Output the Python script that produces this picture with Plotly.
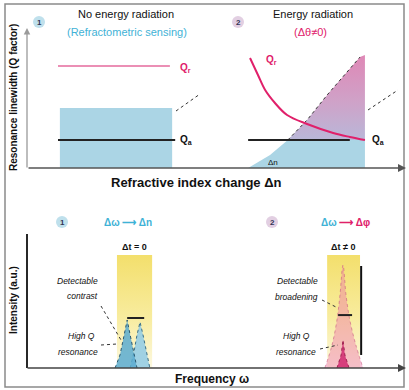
import plotly.graph_objects as go

W, H = 409, 390
def px(x): return x / W
def py(y): return 1 - y / H

# ---------------- data (schematic values) ----------------
# Top panel (1): no energy radiation
p1_rect_x = [0.87, 3.84]; p1_rect_top = 4.35
p1_qa_x = [0.82, 3.92]; p1_qa_y = 2.03
p1_qr_x = [0.82, 3.78]; p1_qr_y = 7.39
# Top panel (2): energy radiation
p2_edge_x = [5.85, 6.43, 6.90, 7.41, 7.94, 8.41, 8.81, 8.94]
p2_edge_y = [0.00, 0.94, 2.03, 3.48, 5.29, 6.74, 8.04, 8.19]
p2_qr_x = [5.90, 6.11, 6.30, 6.56, 6.88, 7.41, 8.10, 8.54, 8.94]
p2_qr_y = [7.97, 6.74, 5.65, 4.71, 3.84, 3.19, 2.54, 2.25, 2.03]
p2_qa_x = [5.85, 8.54]; p2_qa_y = 2.03
# Bottom panel (1)
b1_win_x = [2.38, 3.31]; b1_win_top = 8.5
b1_peakA_x = [2.33, 2.46, 2.57, 2.65, 2.73, 2.83, 2.91]
b1_peakA_y = [0.00, 0.98, 2.48, 3.61, 2.48, 0.98, 0.00]
b1_peakB_x = [2.73, 2.83, 2.91, 2.99, 3.07, 3.17, 3.25]
b1_peakB_y = [0.00, 1.20, 2.48, 3.46, 2.48, 0.98, 0.00]
b1_bar_x = [2.65, 3.10]; b1_bar_y = 3.76
# Bottom panel (2)
b2_win_x = [7.94, 8.81]; b2_win_top = 8.5
b2_peak_x = [7.88, 8.07, 8.20, 8.28, 8.36, 8.44, 8.54, 8.70, 8.89]
b2_peak_y = [0.00, 1.73, 3.61, 5.49, 7.74, 5.49, 3.61, 1.73, 0.00]
b2_hq_x = [8.20, 8.31, 8.36, 8.41, 8.52]
b2_hq_y = [0.00, 0.98, 2.10, 0.98, 0.00]
b2_bar_x = [8.23, 8.60]; b2_bar_y = 3.98
b2_vline_x = 8.84; b2_vline_y = [0.98, 7.67]

BLUE = '#abd5e5'
PINK = '#e46a9c'
MAG = '#e0206a'
CYAN = '#3fb2d6'
FONT = 'Liberation Sans, Arial, sans-serif'

fig = go.Figure()

def tr(**kw):
    kw.setdefault('showlegend', False)
    kw.setdefault('hoverinfo', 'skip')
    fig.add_trace(go.Scatter(**kw))

# ---- top panel traces (x, y) ----
tr(x=[p1_rect_x[0], p1_rect_x[1], p1_rect_x[1], p1_rect_x[0], p1_rect_x[0]],
   y=[0, 0, p1_rect_top, p1_rect_top, 0], mode='lines', line=dict(width=0),
   fill='toself', fillcolor=BLUE, xaxis='x', yaxis='y')
tr(x=p1_qa_x, y=[p1_qa_y] * 2, mode='lines', line=dict(color='#222', width=2), xaxis='x', yaxis='y')
tr(x=p1_qr_x, y=[p1_qr_y] * 2, mode='lines', line=dict(color=PINK, width=1.6), xaxis='x', yaxis='y')

# region below Q_a (solid blue) and above Q_a (lilac -> pink gradient)
k = p2_edge_y.index(p2_qa_y)
xr = p2_edge_x[-1]
low_x = p2_edge_x[:k + 1] + [xr, xr, p2_edge_x[0]]
low_y = p2_edge_y[:k + 1] + [p2_qa_y, 0, 0]
tr(x=low_x, y=low_y, mode='lines', line=dict(width=0), fill='toself', fillcolor=BLUE, xaxis='x', yaxis='y')
top = max(p2_edge_y)
up_x = p2_edge_x[k:] + [xr, p2_edge_x[k]]
up_y = p2_edge_y[k:] + [p2_qa_y, p2_qa_y]
tr(x=up_x, y=up_y, mode='lines', line=dict(width=0), fill='toself',
   fillgradient=dict(type='vertical', start=p2_qa_y, stop=top,
                     colorscale=[[0, '#b9b7d8'], [0.45, '#cfa2c8'], [1, '#df88b6']]),
   xaxis='x', yaxis='y')
tr(x=p2_edge_x[2:7], y=p2_edge_y[2:7], mode='lines',
   line=dict(color='#333', width=1, dash='dot'), xaxis='x', yaxis='y')
tr(x=p2_qa_x, y=[p2_qa_y] * 2, mode='lines', line=dict(color='#222', width=2), xaxis='x', yaxis='y')
tr(x=p2_qr_x, y=p2_qr_y, mode='lines', line=dict(color=MAG, width=2, shape='spline'), xaxis='x', yaxis='y')

# ---- bottom panel traces (x2, y2) ----
for wx, wt in [(b1_win_x, b1_win_top), (b2_win_x, b2_win_top)]:
    tr(x=[wx[0], wx[1], wx[1], wx[0], wx[0]], y=[0, 0, wt, wt, 0], mode='lines', line=dict(width=0),
       fill='toself', fillgradient=dict(type='vertical', start=0, stop=wt,
                                        colorscale=[[0, '#fcf8e0'], [0.45, '#f8ec9e'], [1, '#f3df6c']]),
       xaxis='x2', yaxis='y2')
tr(x=b1_peakB_x, y=b1_peakB_y, mode='lines', fill='toself', fillcolor='rgba(150,205,228,0.9)',
   line=dict(color='#3a6f86', width=1, dash='dot'), xaxis='x2', yaxis='y2')
tr(x=b1_peakA_x, y=b1_peakA_y, mode='lines', fill='toself', fillcolor='rgba(90,172,208,0.85)',
   line=dict(color='#2a5870', width=1, dash='dot'), xaxis='x2', yaxis='y2')
tr(x=b1_bar_x, y=[b1_bar_y] * 2, mode='lines', line=dict(color='#222', width=2), xaxis='x2', yaxis='y2')

tr(x=b2_peak_x, y=b2_peak_y, mode='lines', fill='toself', fillcolor='rgba(238,120,170,0.45)',
   line=dict(color='rgba(200,90,130,0.6)', width=1, dash='dot', shape='spline'), xaxis='x2', yaxis='y2')
tr(x=b2_hq_x, y=b2_hq_y, mode='lines', fill='toself', fillcolor='#d63f7c',
   line=dict(color='#a02050', width=1, dash='dot'), xaxis='x2', yaxis='y2')
tr(x=b2_bar_x, y=[b2_bar_y] * 2, mode='lines', line=dict(color='#222', width=2), xaxis='x2', yaxis='y2')
tr(x=[b2_vline_x] * 2, y=b2_vline_y, mode='lines', line=dict(color='#111', width=2), xaxis='x2', yaxis='y2')

ax_common = dict(showgrid=False, zeroline=False, showticklabels=False, ticks='', showline=False, fixedrange=True)
fig.update_layout(
    width=W, height=H, margin=dict(l=0, r=0, t=0, b=0),
    paper_bgcolor='white', plot_bgcolor='rgba(0,0,0,0)',
    xaxis=dict(domain=[px(27), px(405)], range=[0, 10], anchor='y', **ax_common),
    yaxis=dict(domain=[py(168), py(30)], range=[0, 10], anchor='x', **ax_common),
    xaxis2=dict(domain=[px(27), px(405)], range=[0, 10], anchor='y2', **ax_common),
    yaxis2=dict(domain=[py(368), py(235)], range=[0, 10], anchor='x2', **ax_common),
)

shapes = []
# outer frame
shapes.append(dict(type='rect', xref='paper', yref='paper', x0=px(5), x1=px(404), y0=py(387), y1=py(4),
                   line=dict(color='#8a8a8a', width=1.5)))
# bottom y axis line
shapes.append(dict(type='line', xref='paper', yref='paper', x0=px(27), x1=px(27), y0=py(368), y1=py(234),
                   line=dict(color='#111', width=1.8)))
# badges (round markers)
for bx, by, col in [(39, 22, '#bfe0ec'), (238, 22, '#e2cfe2'), (62, 222, '#bfe0ec'), (272, 222, '#e2cfe2')]:
    shapes.append(dict(type='circle', xref='paper', yref='paper', x0=px(bx - 6), x1=px(bx + 6),
                       y0=py(by + 6), y1=py(by - 6), fillcolor=col, line=dict(width=0)))
# dotted connectors
def dotted(x0, y0, x1, y1, color='#333'):
    shapes.append(dict(type='line', xref='paper', yref='paper', x0=px(x0), y0=py(y0), x1=px(x1), y1=py(y1),
                       line=dict(color=color, width=1, dash='dot')))
dotted(176, 111, 200, 94)
dotted(368, 110, 398, 90)
dotted(101, 306, 121, 340)
dotted(101, 345, 117, 344)
dotted(322, 300, 338, 308)
dotted(320, 349, 338, 345)
fig.update_layout(shapes=shapes)

ann = []
def arrow(x0, y0, x1, y1, color, w=1.5):
    ann.append(dict(xref='paper', yref='paper', axref='pixel', ayref='pixel', x=px(x1), y=py(y1),
                    ax=x0 - x1, ay=y0 - y1, text='', showarrow=True, arrowhead=2, arrowsize=1,
                    arrowwidth=w, arrowcolor=color))
arrow(27, 169, 27, 28, '#9a9a9a', 1.3)
arrow(27, 168, 406, 168, '#555', 1.6)
arrow(26, 368, 406, 368, '#444', 1.6)

def text(x, y, s, size=9, color='#111', xa='center', bold=False, italic=False, angle=0):
    if bold:
        s = '<b>' + s + '</b>'
    if italic:
        s = '<i>' + s + '</i>'
    ann.append(dict(xref='paper', yref='paper', x=px(x), y=py(y), text=s, showarrow=False,
                    xanchor=xa, yanchor='middle', textangle=angle,
                    font=dict(family=FONT, size=size, color=color)))

text(39, 22, '1', 8, '#335', bold=True)
text(126, 14, 'No energy radiation', 11)
text(127, 32, '(Refractometric sensing)', 11, CYAN)
text(238, 22, '2', 8, '#335', bold=True)
text(313, 14, 'Energy radiation', 11)
text(310, 32, '(Δθ≠0)', 11, MAG)

text(178, 68, 'Q<sub>r</sub>', 10, MAG, 'left', bold=True)
text(178, 140, 'Q<sub>a</sub>', 10, '#111', 'left', bold=True)
text(264, 60, 'Q<sub>r</sub>', 10, MAG, 'left', bold=True)
text(370, 140, 'Q<sub>a</sub>', 10, '#111', 'left', bold=True)
text(266, 162, 'Δn', 8, '#111', 'left')
text(13, 98, 'Resonance linewidth (Q factor)', 10, '#111', bold=True, angle=-90)
text(196, 182, 'Refractive index change Δn', 13, '#111', bold=True)

text(62, 222, '1', 8, '#335', bold=True)
text(128, 222, 'Δω ⟶ Δn', 10, CYAN, bold=True)
text(272, 222, '2', 8, '#335', bold=True)
text(345, 222, '<span style="color:%s">Δω</span> ⟶ Δφ' % CYAN, 10, MAG, bold=True)
text(134, 247, 'Δt = 0', 9, '#111', bold=True)
text(343, 247, 'Δt ≠ 0', 9, '#111', bold=True)

text(100, 281, 'Detectable', 8.5, '#111', 'right', italic=True)
text(100, 296, 'contrast', 8.5, '#111', 'right', italic=True)
text(97, 336, 'High Q', 8.5, '#111', 'right', italic=True)
text(100, 352, 'resonance', 8.5, '#111', 'right', italic=True)
text(320, 281, 'Detectable', 8.5, '#111', 'right', italic=True)
text(320, 297, 'broadening', 8.5, '#111', 'right', italic=True)
text(312, 336, 'High Q', 8.5, '#111', 'right', italic=True)
text(318, 352, 'resonance', 8.5, '#111', 'right', italic=True)

text(13, 300, 'Intensity (a.u.)', 10, '#111', bold=True, angle=-90)
text(212, 379, 'Frequency ω', 12, '#111', bold=True)
fig.update_layout(annotations=ann)

fig.write_html('out.html', config={'displayModeBar': False},
               post_script="document.body.style.margin='0';document.body.style.overflow='hidden';")
